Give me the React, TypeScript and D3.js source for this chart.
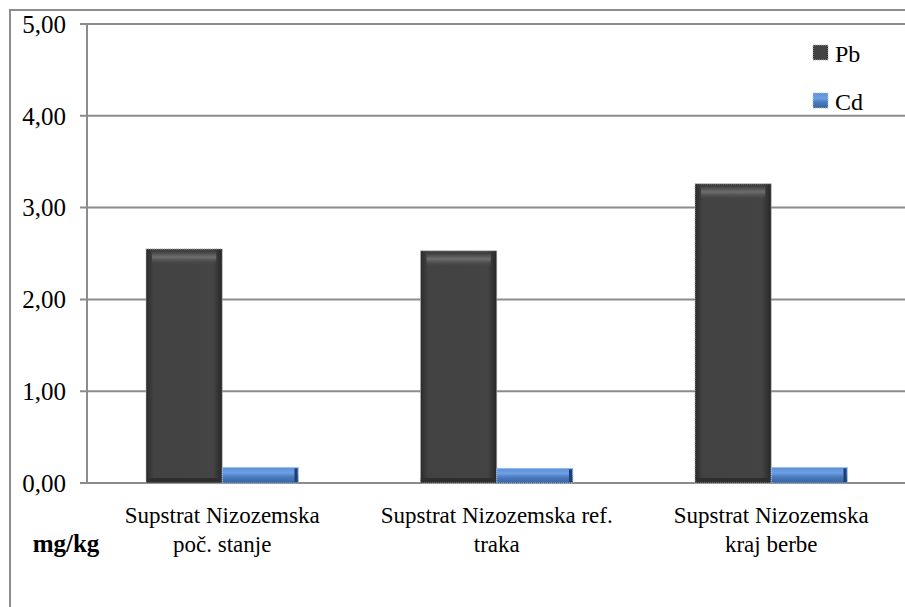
import { scaleBand, scaleLinear } from 'd3'

const WIDTH = 905
const HEIGHT = 607
const PLOT = { left: 87, top: 24, bottom: 483 }

const categories = [
  ['Supstrat Nizozemska', 'poč. stanje'],
  ['Supstrat Nizozemska ref.', 'traka'],
  ['Supstrat Nizozemska', 'kraj berbe'],
]
const seriesNames = ['Pb', 'Cd']
const pbValues = [2.55, 2.53, 3.26]
const cdValues = [0.17, 0.16, 0.17]
const yTicks = [0, 1, 2, 3, 4, 5]
const yTickLabels = ['0,00', '1,00', '2,00', '3,00', '4,00', '5,00']
const unitLabel = 'mg/kg'

const FONT = "'Times New Roman', 'Liberation Serif', 'DejaVu Serif', 'Noto Serif', Times, serif"
const GRID = '#8c8c8c'

export default function App() {
  const catIds = categories.map((_, i) => String(i))
  const x0 = scaleBand<string>().domain(catIds).range([PLOT.left - 2, PLOT.left - 2 + 274.5 * 3])
  const x1 = scaleBand<string>()
    .domain(seriesNames)
    .range([0, x0.bandwidth()])
    .paddingInner(0)
    .paddingOuter(0.8)
  const y = scaleLinear().domain([0, 5]).range([PLOT.bottom, PLOT.top])

  const values: Record<string, number[]> = { Pb: pbValues, Cd: cdValues }

  return (
    <svg
      width={WIDTH}
      height={HEIGHT}
      style={{ position: 'absolute', left: 0, top: 0, background: '#fff', fontFamily: FONT }}
    >
      <defs>
        <linearGradient id="pbSide" x1="0" x2="1" y1="0" y2="0">
          <stop offset="0" stopColor="#2b2b2b" />
          <stop offset="0.1" stopColor="#424242" />
          <stop offset="0.88" stopColor="#444" />
          <stop offset="1" stopColor="#262626" />
        </linearGradient>
        <linearGradient id="pbTop" x1="0" x2="0" y1="0" y2="1">
          <stop offset="0" stopColor="#3a3a3a" />
          <stop offset="0.45" stopColor="#6e6e6e" />
          <stop offset="1" stopColor="#444" stopOpacity="0" />
        </linearGradient>
        <linearGradient id="cdFill" x1="0" x2="0" y1="0" y2="1">
          <stop offset="0" stopColor="#5c8fd6" />
          <stop offset="0.35" stopColor="#6fa0e6" />
          <stop offset="0.6" stopColor="#4a7cc0" />
          <stop offset="1" stopColor="#3a62a0" />
        </linearGradient>
      </defs>

      {/* outer chart border */}
      <rect x={10} y={10} width={1000} height={700} fill="none" stroke={GRID} strokeWidth={2} />

      {/* gridlines and y ticks */}
      {yTicks.map((t, i) => (
        <g key={t}>
          <line x1={PLOT.left - 7} x2={WIDTH} y1={y(t)} y2={y(t)} stroke={GRID} strokeWidth={2} />
          <text x={66} y={y(t)} dy="0.35em" textAnchor="end" fontSize={25} fill="#000">
            {yTickLabels[i]}
          </text>
        </g>
      ))}
      <line x1={PLOT.left} x2={PLOT.left} y1={PLOT.top} y2={PLOT.bottom} stroke={GRID} strokeWidth={2} />

      {/* bars */}
      {catIds.map((c, ci) => (
        <g key={c} transform={`translate(${x0(c)},0)`}>
          {seriesNames.map((s) => {
            const v = values[s][ci]
            const bx = x1(s) ?? 0
            const bw = x1.bandwidth()
            const by = y(v)
            const bh = y(0) - by
            if (s === 'Pb') {
              return (
                <g key={s}>
                  <rect x={bx} y={by} width={bw} height={bh} fill="url(#pbSide)" />
                  <rect x={bx + 6} y={by + 2} width={bw - 12} height={14} fill="url(#pbTop)" />
                  <rect x={bx} y={y(0) - 5} width={bw} height={5} fill="#2e2e2e" />
                  <rect
                    x={bx}
                    y={by}
                    width={bw}
                    height={bh}
                    fill="none"
                    stroke="#b8b8b8"
                    strokeWidth={1}
                    strokeDasharray="1,1"
                  />
                </g>
              )
            }
            return (
              <g key={s}>
                <rect x={bx} y={by} width={bw} height={bh} fill="url(#cdFill)" />
                <rect x={bx + bw - 4} y={by + 1} width={3} height={bh - 2} fill="#1f3f70" />
                <rect
                  x={bx}
                  y={by}
                  width={bw}
                  height={bh}
                  fill="none"
                  stroke="#a9c4ea"
                  strokeWidth={1}
                  strokeDasharray="1,1"
                />
              </g>
            )
          })}
        </g>
      ))}

      {/* category labels */}
      {categories.map((lines, ci) => {
        const cx = (x0(String(ci)) ?? 0) + x0.bandwidth() / 2
        return (
          <text key={ci} x={cx} textAnchor="middle" fontSize={23} fill="#000">
            {lines.map((l, li) => (
              <tspan key={li} x={cx} y={523 + li * 29}>
                {l}
              </tspan>
            ))}
          </text>
        )
      })}

      <text x={66} y={552} textAnchor="middle" fontSize={25} fontWeight="bold" fill="#000">
        {unitLabel}
      </text>

      {/* legend */}
      {seriesNames.map((s, i) => (
        <g key={s} transform={`translate(813, ${45 + i * 48})`}>
          <rect
            x={0}
            y={0}
            width={15}
            height={15}
            fill={s === 'Pb' ? 'url(#pbSide)' : 'url(#cdFill)'}
            stroke={s === 'Pb' ? '#b8b8b8' : '#a9c4ea'}
            strokeDasharray="1,1"
          />
          <text x={22} y={17} fontSize={24} fill="#000">
            {s}
          </text>
        </g>
      ))}
    </svg>
  )
}
